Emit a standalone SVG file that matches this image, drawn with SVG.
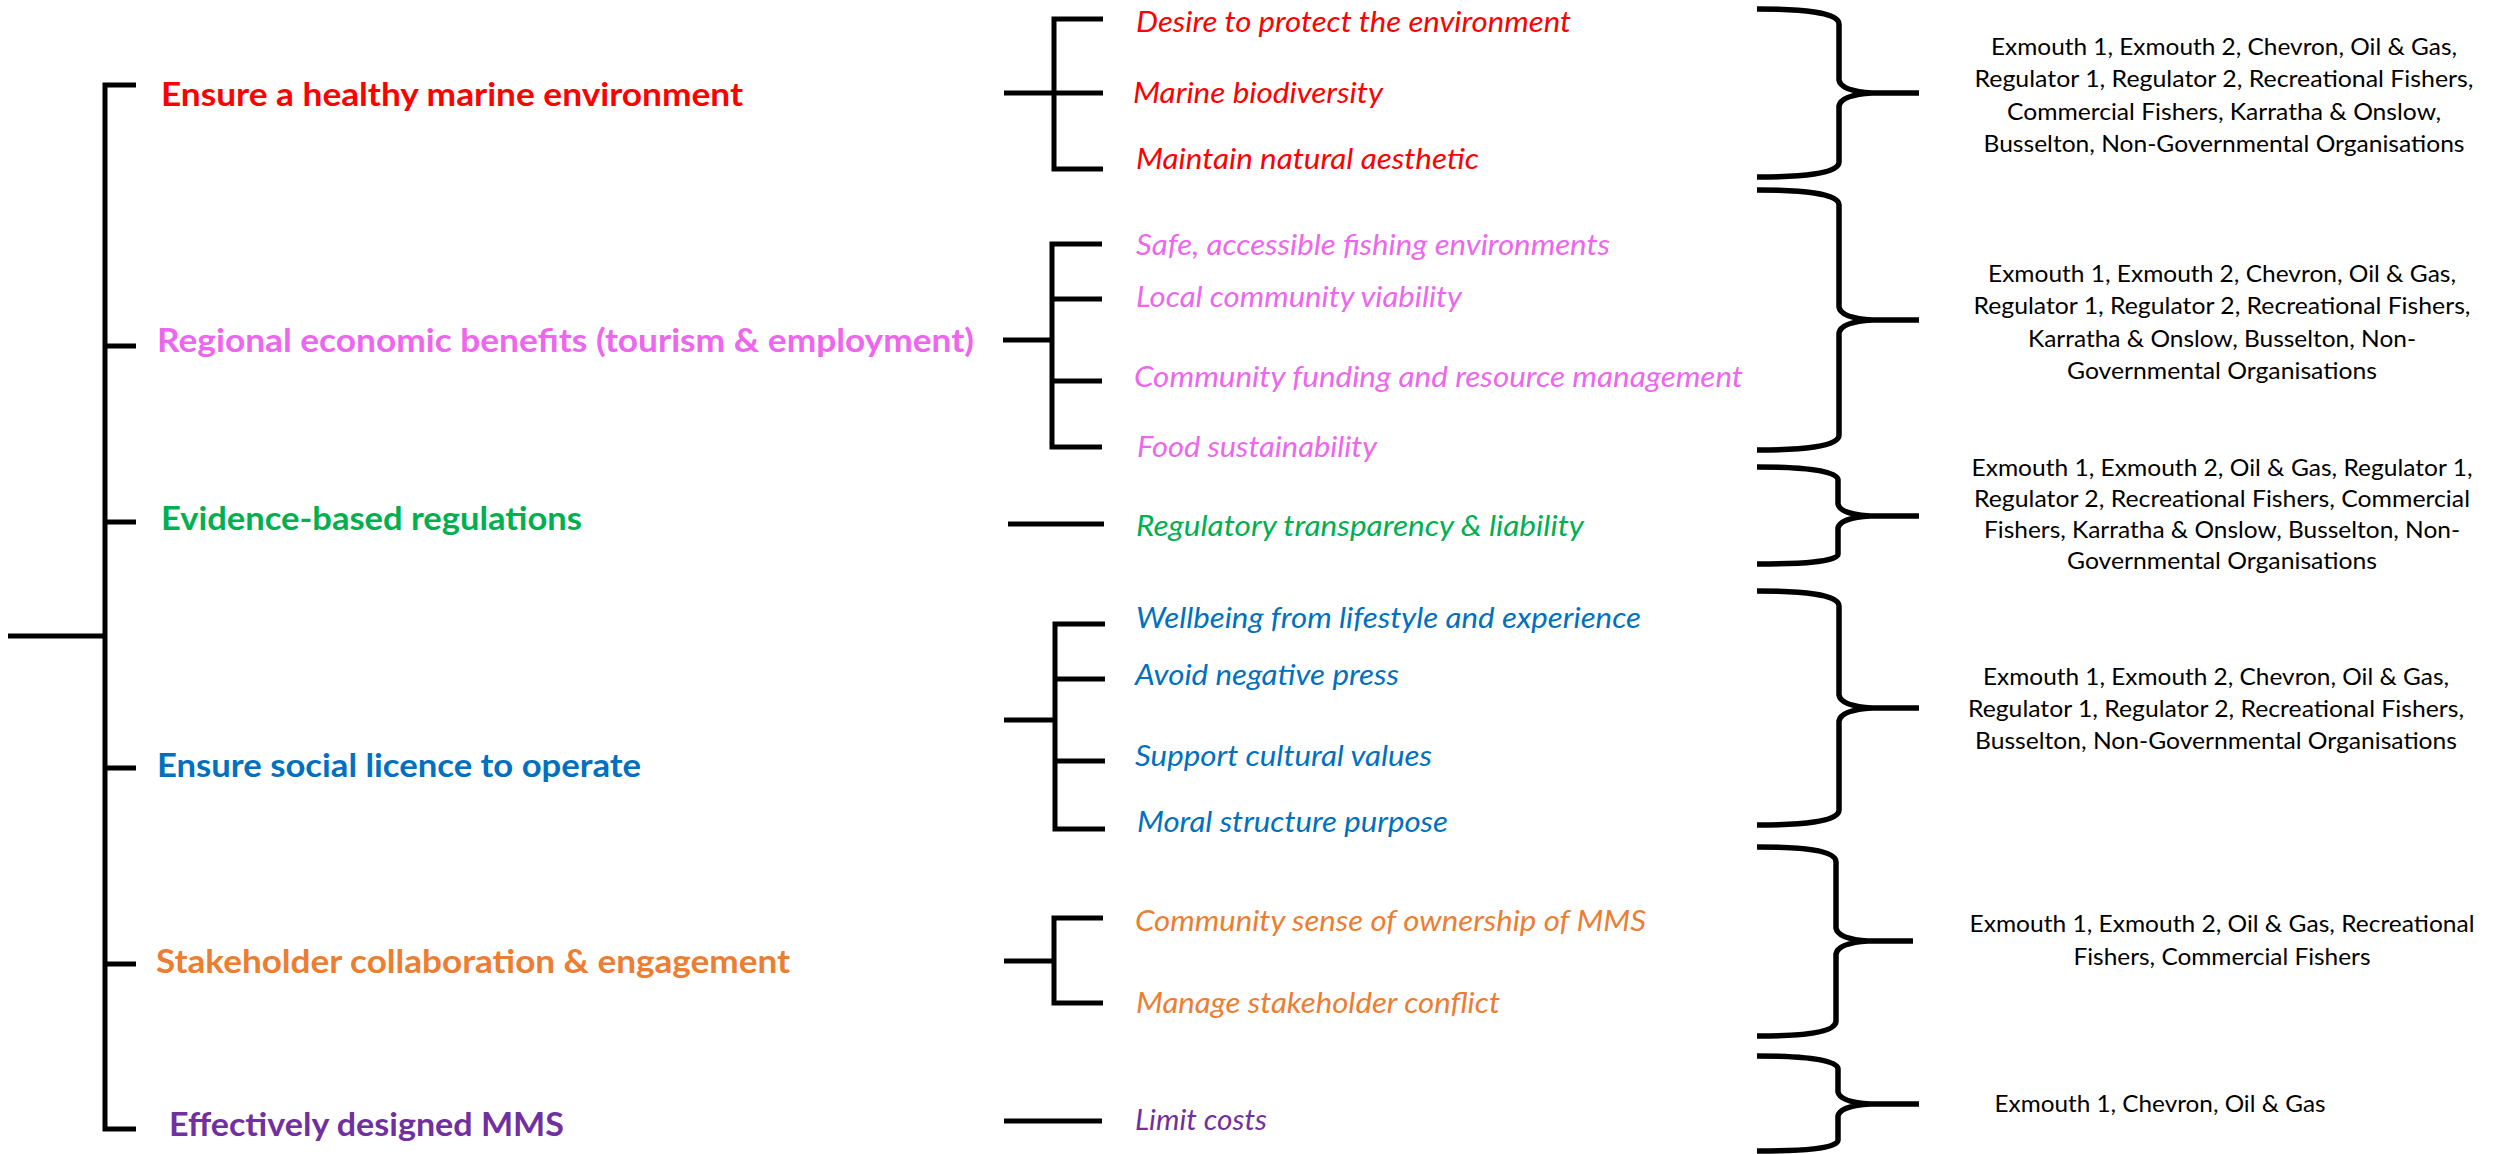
<svg xmlns="http://www.w3.org/2000/svg" width="2501" height="1154" viewBox="0 0 2501 1154">
  <style>
    text { font-family: Lato, "Open Sans", "Liberation Sans", sans-serif; }
    .l1 { font-size: 33px; font-weight: 700; }
    .l2 { font-size: 28px; font-style: italic; }
    .sh { font-size: 23px; fill: #000; text-anchor: middle; }
    .red { fill: #FF0000; }
    .pink { fill: #EE66EE; }
    .green { fill: #00B050; }
    .blue { fill: #0070C0; }
    .orange { fill: #ED7D31; }
    .purple { fill: #7030A0; }
    .ln { fill: none; stroke: #000; stroke-width: 5; stroke-linejoin: miter; stroke-linecap: butt; }
    .brace { fill: none; stroke: #000; stroke-width: 5.5; stroke-linejoin: round; stroke-linecap: butt; }
  </style>
  <rect width="2501" height="1154" fill="#fff"/>

  <!-- tree lines, brackets and braces -->
  <g id="connectors">
    <!-- main trunk -->
    <path class="ln" d="M8,636 H105"/>
    <path class="ln" d="M136,85 H105 V1129 H136"/>
    <path class="ln" d="M105,346 H136 M105,522 H136 M105,768 H136 M105,964 H136"/>

    <!-- sub-value brackets -->
    <path class="ln" d="M1103,19 H1054 V169 H1103 M1004,93 H1103"/>
    <path class="ln" d="M1102,244 H1052 V447 H1102 M1052,299 H1102 M1052,381 H1102 M1003,340 H1052"/>
    <path class="ln" d="M1008,524 H1104"/>
    <path class="ln" d="M1105,624 H1055 V829 H1105 M1055,679 H1105 M1055,761 H1105 M1004,720 H1055"/>
    <path class="ln" d="M1103,918 H1054 V1003 H1103 M1004,961 H1054"/>
    <path class="ln" d="M1004,1121 H1102"/>

    <!-- curly braces to stakeholder lists -->
    <path class="brace" d="M1757,9 C1800,9 1839,12 1839,24 L1839,80 Q1841,91 1872,93 L1919,93 M1872,93 Q1841,95 1839,106 L1839,162 C1839,174 1800,177 1757,177"/>
    <path class="brace" d="M1757,190 C1800,190 1839,193 1839,205 L1839,307 Q1841,318 1872,320 L1919,320 M1872,320 Q1841,322 1839,333 L1839,435 C1839,447 1800,450 1757,450"/>
    <path class="brace" d="M1757,467 C1800,467 1838,470 1838,480 L1838,504 Q1840,514 1870,516 L1919,516 M1870,516 Q1840,518 1838,528 L1838,554 C1838,562 1800,564 1757,564"/>
    <path class="brace" d="M1757,591 C1800,591 1839,594 1839,606 L1839,695 Q1841,706 1872,708 L1919,708 M1872,708 Q1841,710 1839,721 L1839,810 C1839,822 1800,825 1757,825"/>
    <path class="brace" d="M1757,847 C1800,847 1836,850 1836,862 L1836,928 Q1838,939 1868,941 L1913,941 M1868,941 Q1838,943 1836,954 L1836,1021 C1836,1033 1800,1036 1757,1036"/>
    <path class="brace" d="M1757,1056 C1800,1056 1838,1059 1838,1069 L1838,1092 Q1840,1102 1870,1104 L1919,1104 M1870,1104 Q1840,1106 1838,1116 L1838,1140 C1838,1149 1800,1151 1757,1151"/>
  </g>

  <!-- top-level values -->
  <g id="value-marine-environment"><text class="l1 red" x="161" y="106" textLength="582" lengthAdjust="spacingAndGlyphs">Ensure a healthy marine environment</text></g>
  <g id="value-regional-economy"><text class="l1 pink" x="157" y="352" textLength="817" lengthAdjust="spacingAndGlyphs">Regional economic benefits (tourism &amp; employment)</text></g>
  <g id="value-evidence-regulation"><text class="l1 green" x="161" y="530" textLength="421" lengthAdjust="spacingAndGlyphs">Evidence-based regulations</text></g>
  <g id="value-social-licence"><text class="l1 blue" x="157" y="777" textLength="484" lengthAdjust="spacingAndGlyphs">Ensure social licence to operate</text></g>
  <g id="value-collaboration"><text class="l1 orange" x="156" y="973" textLength="634" lengthAdjust="spacingAndGlyphs">Stakeholder collaboration &amp; engagement</text></g>
  <g id="value-design"><text class="l1 purple" x="169" y="1136" textLength="395" lengthAdjust="spacingAndGlyphs">Effectively designed MMS</text></g>

  <!-- sub-values -->
  <g id="sub-protect-environment"><text class="l2 red" x="1136" y="32" textLength="435" lengthAdjust="spacingAndGlyphs">Desire to protect the environment</text></g>
  <g id="sub-biodiversity"><text class="l2 red" x="1133" y="103" textLength="250" lengthAdjust="spacingAndGlyphs">Marine biodiversity</text></g>
  <g id="sub-aesthetic"><text class="l2 red" x="1136" y="169" textLength="343" lengthAdjust="spacingAndGlyphs">Maintain natural aesthetic</text></g>

  <g id="sub-fishing"><text class="l2 pink" x="1136" y="255" textLength="474" lengthAdjust="spacingAndGlyphs">Safe, accessible fishing environments</text></g>
  <g id="sub-viability"><text class="l2 pink" x="1136" y="307" textLength="326" lengthAdjust="spacingAndGlyphs">Local community viability</text></g>
  <g id="sub-funding"><text class="l2 pink" x="1134" y="387" textLength="609" lengthAdjust="spacingAndGlyphs">Community funding and resource management</text></g>
  <g id="sub-food"><text class="l2 pink" x="1137" y="457" textLength="240" lengthAdjust="spacingAndGlyphs">Food sustainability</text></g>

  <g id="sub-transparency"><text class="l2 green" x="1136" y="536" textLength="448" lengthAdjust="spacingAndGlyphs">Regulatory transparency &amp; liability</text></g>

  <g id="sub-wellbeing"><text class="l2 blue" x="1136" y="628" textLength="505" lengthAdjust="spacingAndGlyphs">Wellbeing from lifestyle and experience</text></g>
  <g id="sub-press"><text class="l2 blue" x="1135" y="685" textLength="264" lengthAdjust="spacingAndGlyphs">Avoid negative press</text></g>
  <g id="sub-culture"><text class="l2 blue" x="1135" y="766" textLength="297" lengthAdjust="spacingAndGlyphs">Support cultural values</text></g>
  <g id="sub-moral"><text class="l2 blue" x="1137" y="832" textLength="311" lengthAdjust="spacingAndGlyphs">Moral structure purpose</text></g>

  <g id="sub-ownership"><text class="l2 orange" x="1135" y="931" textLength="511" lengthAdjust="spacingAndGlyphs">Community sense of ownership of MMS</text></g>
  <g id="sub-conflict"><text class="l2 orange" x="1136" y="1013" textLength="364" lengthAdjust="spacingAndGlyphs">Manage stakeholder conflict</text></g>

  <g id="sub-costs"><text class="l2 purple" x="1135" y="1130" textLength="132" lengthAdjust="spacingAndGlyphs">Limit costs</text></g>

  <!-- stakeholder lists -->
  <g id="stakeholders-1">
    <text class="sh" x="2224" y="55" textLength="466" lengthAdjust="spacingAndGlyphs">Exmouth 1, Exmouth 2, Chevron, Oil &amp; Gas,</text>
    <text class="sh" x="2224" y="87" textLength="499" lengthAdjust="spacingAndGlyphs">Regulator 1, Regulator 2, Recreational Fishers,</text>
    <text class="sh" x="2224" y="120" textLength="434" lengthAdjust="spacingAndGlyphs">Commercial Fishers, Karratha &amp; Onslow,</text>
    <text class="sh" x="2224" y="152" textLength="481" lengthAdjust="spacingAndGlyphs">Busselton, Non-Governmental Organisations</text>
  </g>
  <g id="stakeholders-2">
    <text class="sh" x="2222" y="282" textLength="468" lengthAdjust="spacingAndGlyphs">Exmouth 1, Exmouth 2, Chevron, Oil &amp; Gas,</text>
    <text class="sh" x="2222" y="314" textLength="497" lengthAdjust="spacingAndGlyphs">Regulator 1, Regulator 2, Recreational Fishers,</text>
    <text class="sh" x="2222" y="347" textLength="388" lengthAdjust="spacingAndGlyphs">Karratha &amp; Onslow, Busselton, Non-</text>
    <text class="sh" x="2222" y="379" textLength="310" lengthAdjust="spacingAndGlyphs">Governmental Organisations</text>
  </g>
  <g id="stakeholders-3">
    <text class="sh" x="2222" y="476" textLength="501" lengthAdjust="spacingAndGlyphs">Exmouth 1, Exmouth 2, Oil &amp; Gas, Regulator 1,</text>
    <text class="sh" x="2222" y="507" textLength="496" lengthAdjust="spacingAndGlyphs">Regulator 2, Recreational Fishers, Commercial</text>
    <text class="sh" x="2222" y="538" textLength="476" lengthAdjust="spacingAndGlyphs">Fishers, Karratha &amp; Onslow, Busselton, Non-</text>
    <text class="sh" x="2222" y="569" textLength="310" lengthAdjust="spacingAndGlyphs">Governmental Organisations</text>
  </g>
  <g id="stakeholders-4">
    <text class="sh" x="2216" y="685" textLength="466" lengthAdjust="spacingAndGlyphs">Exmouth 1, Exmouth 2, Chevron, Oil &amp; Gas,</text>
    <text class="sh" x="2216" y="717" textLength="496" lengthAdjust="spacingAndGlyphs">Regulator 1, Regulator 2, Recreational Fishers,</text>
    <text class="sh" x="2216" y="749" textLength="482" lengthAdjust="spacingAndGlyphs">Busselton, Non-Governmental Organisations</text>
  </g>
  <g id="stakeholders-5">
    <text class="sh" x="2222" y="932" textLength="505" lengthAdjust="spacingAndGlyphs">Exmouth 1, Exmouth 2, Oil &amp; Gas, Recreational</text>
    <text class="sh" x="2222" y="965" textLength="297" lengthAdjust="spacingAndGlyphs">Fishers, Commercial Fishers</text>
  </g>
  <g id="stakeholders-6">
    <text class="sh" x="2160" y="1112" textLength="331" lengthAdjust="spacingAndGlyphs">Exmouth 1, Chevron, Oil &amp; Gas</text>
  </g>
</svg>
